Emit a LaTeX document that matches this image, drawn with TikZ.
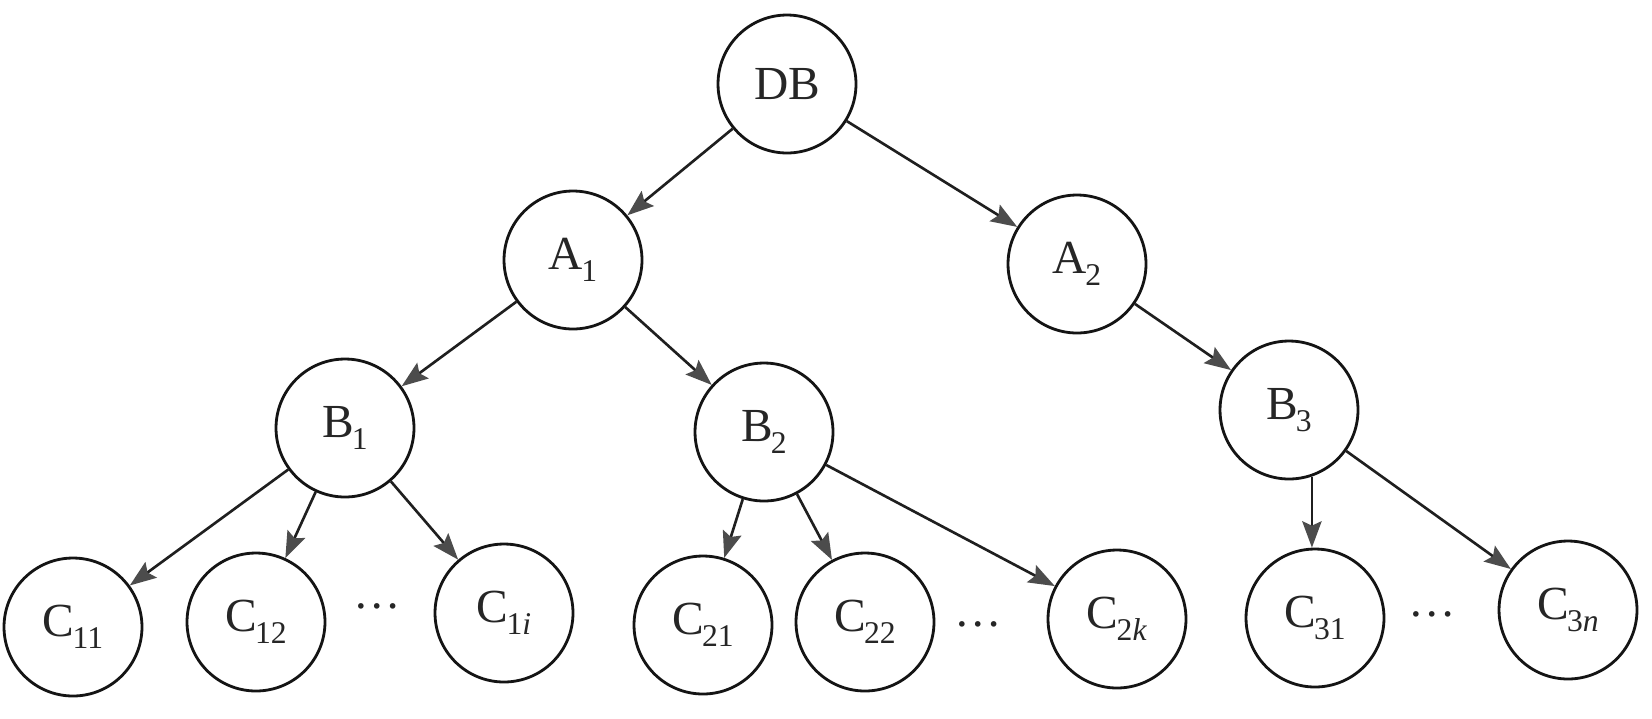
\documentclass[tikz,border=0pt]{standalone}
\usepackage{fontspec}
\setmainfont{Liberation Serif}
\usetikzlibrary{arrows.meta}
\newcommand{\lsub}[1]{\kern-0.04em\raisebox{-0.25em}{\fontsize{18}{18}\selectfont #1}}
\begin{document}
\begin{tikzpicture}[x=0.02cm,y=-0.02cm,
  vert/.style={circle,draw=black!92,line width=1.6pt,minimum size=2.76cm,inner sep=0pt,
    text=black!85,font=\fontsize{27}{27}\selectfont},
  edge/.style={line width=1.5pt,draw=black!88,
    -{Stealth[length=15pt,width=11pt,inset=2.5pt,color=black!70]}},
  dotsnode/.style={text=black!85,font=\fontsize{27}{27}\selectfont}]
\useasboundingbox (0,0) rectangle (1652,718);
\fill[white] (0,0) rectangle (1652,718);
\node[vert] (DB) at (787,84) {DB};
\node[vert] (A1) at (573,260) {A\lsub{1}};
\node[vert] (A2) at (1077,264) {A\lsub{2}};
\node[vert] (B1) at (345,428) {B\lsub{1}};
\node[vert] (B2) at (764,432) {B\lsub{2}};
\node[vert] (B3) at (1289,410) {B\lsub{3}};
\node[vert] (C11) at (73,627) {C\lsub{11}};
\node[vert] (C12) at (256,622) {C\lsub{12}};
\node[vert] (C1i) at (504,613) {C\lsub{1\textit{i}}};
\node[vert] (C21) at (703,625) {C\lsub{21}};
\node[vert] (C22) at (865,622) {C\lsub{22}};
\node[vert] (C2k) at (1117,619) {C\lsub{2\textit{k}}};
\node[vert] (C31) at (1315,618) {C\lsub{31}};
\node[vert] (C3n) at (1568,610) {C\lsub{3\textit{n}}};
\node[dotsnode] (d1) at (377,606) {\dots};
\node[dotsnode] (d2) at (978,624) {\dots};
\node[dotsnode] (d3) at (1432,614) {\dots};
\draw[edge] (DB) -- (A1);
\draw[edge] (DB) -- (A2);
\draw[edge] (A1) -- (B1);
\draw[edge] (A1) -- (B2);
\draw[edge] (A2) -- (B3);
\draw[edge] (B1) -- (C11);
\draw[edge] (B1) -- (C12);
\draw[edge] (B1) -- (C1i);
\draw[edge] (B2) -- (C21);
\draw[edge] (B2) -- (C22);
\draw[edge] (B2) -- (C2k);
\draw[edge] (B3.-71) -- (B3.-71 |- C31.north);
\draw[edge] (B3) -- (C3n);
\end{tikzpicture}
\end{document}
